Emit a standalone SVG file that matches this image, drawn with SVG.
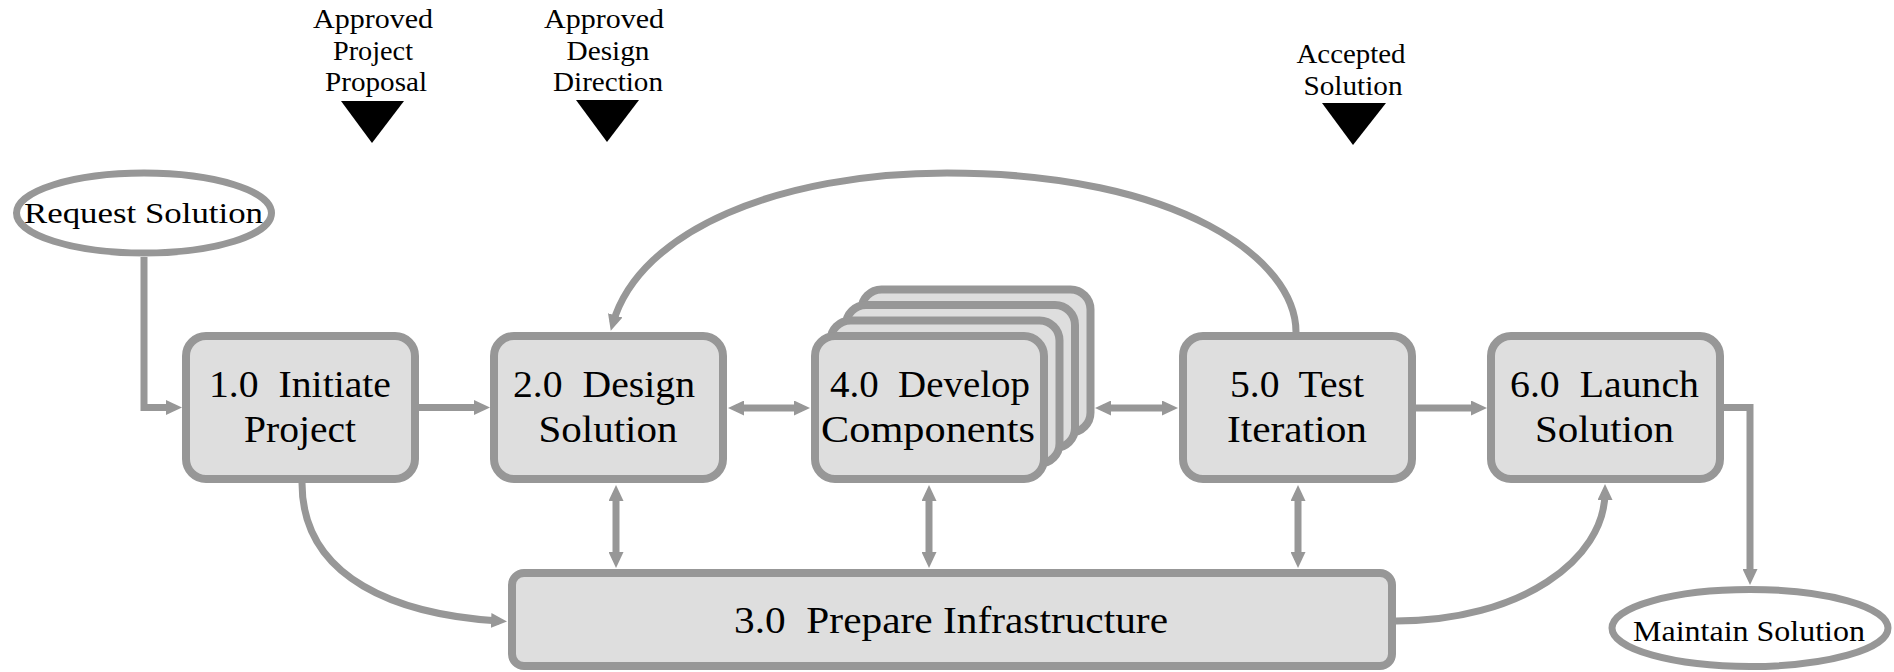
<svg xmlns="http://www.w3.org/2000/svg" width="1894" height="672" viewBox="0 0 1894 672">
  <style>
    .box { fill:#dedede; stroke:#979797; stroke-width:8; }
    .term { fill:#ffffff; stroke:#979797; stroke-width:7; }
    .conn { fill:none; stroke:#979797; stroke-width:7; }
    .gate { fill:#000000; }
  </style>
  <defs>
    <marker id="ah" viewBox="0 0 16 15" refX="8" refY="7.5" markerWidth="16" markerHeight="15" markerUnits="userSpaceOnUse" orient="auto-start-reverse">
      <path d="M0,0 L16,7.5 L0,15 z" fill="#979797"/>
    </marker>
  </defs>

  <!-- milestone gates -->
  <g id="gate-project-proposal">
    <text x="373" y="28" font-family="Liberation Serif" font-size="27" text-anchor="middle" textLength="120" lengthAdjust="spacingAndGlyphs">Approved</text>
    <text x="373" y="60" font-family="Liberation Serif" font-size="27" text-anchor="middle" textLength="80" lengthAdjust="spacingAndGlyphs">Project</text>
    <text x="376" y="91" font-family="Liberation Serif" font-size="27" text-anchor="middle" textLength="102" lengthAdjust="spacingAndGlyphs">Proposal</text>
    <polygon class="gate" points="341,101 404,101 372,143"/>
  </g>
  <g id="gate-design-direction">
    <text x="604" y="28" font-family="Liberation Serif" font-size="27" text-anchor="middle" textLength="120" lengthAdjust="spacingAndGlyphs">Approved</text>
    <text x="608" y="60" font-family="Liberation Serif" font-size="27" text-anchor="middle" textLength="83" lengthAdjust="spacingAndGlyphs">Design</text>
    <text x="608" y="91" font-family="Liberation Serif" font-size="27" text-anchor="middle" textLength="110" lengthAdjust="spacingAndGlyphs">Direction</text>
    <polygon class="gate" points="576,100 639,100 607,142"/>
  </g>
  <g id="gate-accepted-solution">
    <text x="1351" y="63" font-family="Liberation Serif" font-size="27" text-anchor="middle" textLength="109" lengthAdjust="spacingAndGlyphs">Accepted</text>
    <text x="1353" y="95" font-family="Liberation Serif" font-size="27" text-anchor="middle" textLength="99" lengthAdjust="spacingAndGlyphs">Solution</text>
    <polygon class="gate" points="1322,103 1386,103 1353,145"/>
  </g>

  <!-- connectors -->
  <g id="connectors">
    <path class="conn" d="M144,257 V407.5 H174" marker-end="url(#ah)"/>
    <path class="conn" d="M419,407.5 H482" marker-end="url(#ah)"/>
    <path class="conn" d="M736,408 H802" marker-start="url(#ah)" marker-end="url(#ah)"/>
    <path class="conn" d="M1103,408 H1170" marker-start="url(#ah)" marker-end="url(#ah)"/>
    <path class="conn" d="M1416,408 H1479" marker-end="url(#ah)"/>
    <path class="conn" d="M1724,407.5 H1750 V577" marker-end="url(#ah)"/>
    <path class="conn" d="M616,493 V560" marker-start="url(#ah)" marker-end="url(#ah)"/>
    <path class="conn" d="M929,493 V560" marker-start="url(#ah)" marker-end="url(#ah)"/>
    <path class="conn" d="M1298,493 V560" marker-start="url(#ah)" marker-end="url(#ah)"/>
    <path class="conn" d="M1296,332 C1296,260 1180,173 947,173 C780,173 640,230 613,323" marker-end="url(#ah)"/>
    <path class="conn" d="M302,483 C302,580 400,615 499,621" marker-end="url(#ah)"/>
    <path class="conn" d="M1396,621 C1520,621 1605,560 1605,492" marker-end="url(#ah)"/>
  </g>

  <!-- terminators -->
  <g id="request-solution">
    <ellipse class="term" cx="144" cy="213" rx="127.5" ry="40"/>
    <text x="143.5" y="223" font-family="Liberation Serif" font-size="30" text-anchor="middle" textLength="239" lengthAdjust="spacingAndGlyphs">Request Solution</text>
  </g>
  <g id="maintain-solution">
    <ellipse class="term" cx="1750" cy="628" rx="138" ry="38.5"/>
    <text x="1749" y="641" font-family="Liberation Serif" font-size="30" text-anchor="middle" textLength="232" lengthAdjust="spacingAndGlyphs">Maintain Solution</text>
  </g>

  <!-- process nodes -->
  <g id="node-1">
    <rect class="box" x="186" y="336" width="229" height="143" rx="20"/>
    <text x="300" y="397" font-family="Liberation Serif" font-size="38" text-anchor="middle" textLength="182" lengthAdjust="spacingAndGlyphs">1.0&#160; Initiate</text>
    <text x="300" y="442" font-family="Liberation Serif" font-size="38" text-anchor="middle" textLength="112" lengthAdjust="spacingAndGlyphs">Project</text>
  </g>
  <g id="node-2">
    <rect class="box" x="494" y="336" width="229" height="143" rx="20"/>
    <text x="604" y="397" font-family="Liberation Serif" font-size="38" text-anchor="middle" textLength="182" lengthAdjust="spacingAndGlyphs">2.0&#160; Design</text>
    <text x="608" y="442" font-family="Liberation Serif" font-size="38" text-anchor="middle" textLength="139" lengthAdjust="spacingAndGlyphs">Solution</text>
  </g>
  <g id="node-4">
    <rect class="box" x="861.5" y="289.5" width="229" height="143" rx="20"/>
    <rect class="box" x="846" y="305" width="229" height="143" rx="20"/>
    <rect class="box" x="830.5" y="320.5" width="229" height="143" rx="20"/>
    <rect class="box" x="815" y="336" width="229" height="143" rx="20"/>
    <text x="930" y="397" font-family="Liberation Serif" font-size="38" text-anchor="middle" textLength="200" lengthAdjust="spacingAndGlyphs">4.0&#160; Develop</text>
    <text x="928" y="442" font-family="Liberation Serif" font-size="38" text-anchor="middle" textLength="214" lengthAdjust="spacingAndGlyphs">Components</text>
  </g>
  <g id="node-5">
    <rect class="box" x="1183" y="336" width="229" height="143" rx="20"/>
    <text x="1297" y="397" font-family="Liberation Serif" font-size="38" text-anchor="middle" textLength="134" lengthAdjust="spacingAndGlyphs">5.0&#160; Test</text>
    <text x="1297" y="442" font-family="Liberation Serif" font-size="38" text-anchor="middle" textLength="140" lengthAdjust="spacingAndGlyphs">Iteration</text>
  </g>
  <g id="node-6">
    <rect class="box" x="1491" y="336" width="229" height="143" rx="20"/>
    <text x="1604.5" y="397" font-family="Liberation Serif" font-size="38" text-anchor="middle" textLength="189" lengthAdjust="spacingAndGlyphs">6.0&#160; Launch</text>
    <text x="1604.5" y="442" font-family="Liberation Serif" font-size="38" text-anchor="middle" textLength="139" lengthAdjust="spacingAndGlyphs">Solution</text>
  </g>
  <g id="node-3">
    <rect class="box" x="512" y="573" width="880" height="93" rx="12"/>
    <text x="951" y="633" font-family="Liberation Serif" font-size="38" text-anchor="middle" textLength="434" lengthAdjust="spacingAndGlyphs">3.0&#160; Prepare Infrastructure</text>
  </g>
</svg>
